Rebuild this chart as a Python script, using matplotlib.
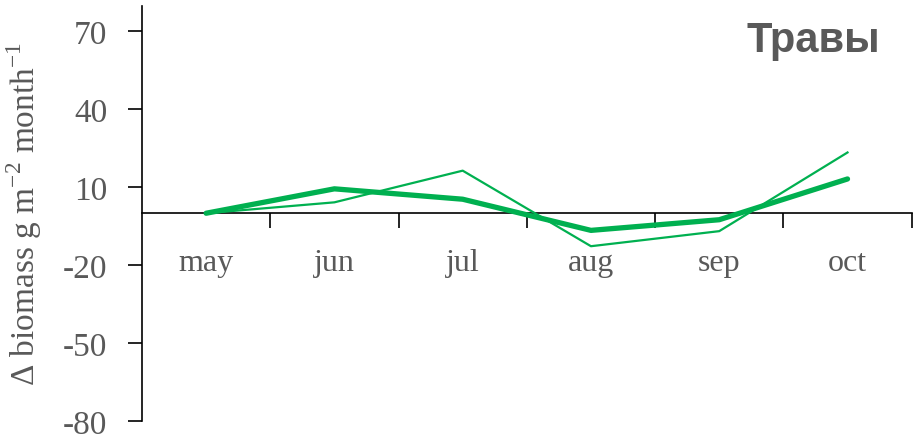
import matplotlib.pyplot as plt

months = ['may', 'jun', 'jul', 'aug', 'sep', 'oct']
thick_line = [0, 9.4, 5.4, -6.6, -2.5, 13.2]
thin_line = [0, 4.2, 16.4, -12.7, -6.9, 23.4]
yticks = [-80, -50, -20, 10, 40, 70]

grey = '#595959'
green = '#00B050'

plt.rcParams['font.family'] = 'Liberation Serif'
plt.rcParams['axes.unicode_minus'] = False
plt.rcParams['mathtext.fontset'] = 'custom'
plt.rcParams['mathtext.rm'] = 'Liberation Serif'

fig = plt.figure(figsize=(9.19, 4.35), dpi=100)
ax = fig.add_axes([0.1545, 0.03, 0.8375, 0.955])

x = list(range(len(months)))
ax.plot(x, thin_line, color=green, lw=1.6, zorder=3)
ax.plot(x, thick_line, color=green, lw=3.8, zorder=4, solid_capstyle='round')

ax.set_xlim(-0.5, len(months) - 0.5)
ax.set_ylim(-80, 80)

for s in ['top', 'right']:
    ax.spines[s].set_visible(False)
ax.spines['bottom'].set_position(('data', 0))
ax.spines['bottom'].set_linewidth(1.2)
ax.spines['left'].set_linewidth(1.2)

# ticks at category boundaries, labels at centres
ax.set_xticks([i + 0.5 for i in range(len(months))])
ax.set_xticklabels([])
ax.tick_params(axis='x', which='major', direction='out', length=11, width=1.2)
ax.set_xticks(x, minor=True)
ax.set_xticklabels(months, minor=True)
ax.tick_params(axis='x', which='minor', length=0, pad=25,
               labelsize=23, labelcolor=grey)

ax.set_yticks(yticks)
ax.tick_params(axis='y', direction='out', length=10, width=1.2, pad=15,
               labelsize=24, labelcolor=grey)

ax.set_ylabel(r'Δ biomass g m$^{\mathregular{-2}}$ month$^{\mathregular{-1}}$',
              fontsize=24, color=grey)
ax.yaxis.set_label_coords(-0.127, 0.5)

ax.text(0.959, 0.965, 'Травы', transform=ax.transAxes, ha='right', va='top',
        family='Liberation Sans', fontweight='bold', fontsize=30, color=grey)

fig.savefig('out.png', dpi=100)
